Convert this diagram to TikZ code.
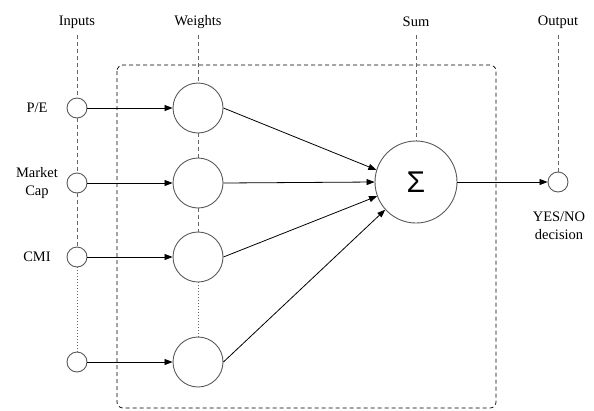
\documentclass[tikz,border=0pt]{standalone}
\usepackage{fontspec}
\setmainfont{Liberation Serif}
\newfontfamily\sigmafont{Liberation Sans}
\usetikzlibrary{arrows.meta}
\begin{document}
\begin{tikzpicture}[x=1pt,y=-1pt,
  lab/.style={font=\fontsize{14.5}{17}\selectfont, inner sep=0pt, align=center},
  incirc/.style={circle, draw=black!65, line width=0.9pt, minimum size=20pt, inner sep=0pt},
  wcirc/.style={circle, draw=black!65, line width=0.9pt, minimum size=50pt, inner sep=0pt},
  scirc/.style={circle, draw=black!65, line width=0.9pt, minimum size=82pt, inner sep=0pt},
  guide/.style={draw=black!60, line width=0.7pt, dash pattern=on 4pt off 3pt},
  guidedot/.style={draw=black!60, line width=0.7pt, dash pattern=on 1pt off 2pt},
  conn/.style={draw=black, line width=0.8pt, -{Triangle[length=8pt,width=6pt]}},
]
\useasboundingbox (0,0) rectangle (594,410);
% dashed box
\draw[line width=0.7pt, dash pattern=on 4pt off 3pt, rounded corners=6pt] (117,65) rectangle (496,408);

% header labels
\node[lab] (hin) at (77,22) {Inputs};
\node[lab] (hw) at (198,22) {Weights};
\node[lab] (hs) at (416,22) {Sum};
\node[lab] (ho) at (558,22) {Output};

% inputs
\node[incirc] (i1) at (77,108) {};
\node[incirc] (i2) at (77,183) {};
\node[incirc] (i3) at (77,257) {};
\node[incirc] (i4) at (77,362) {};

\node[lab] (l1) at (37,108) {P/E};
\node[lab, font=\fontsize{14.5}{18}\selectfont] (l2) at (37,183) {Market\\Cap};
\node[lab] (l3) at (37,257) {CMI};

% weights
\node[wcirc] (w1) at (198,108) {};
\node[wcirc] (w2) at (198,183) {};
\node[wcirc] (w3) at (198,257) {};
\node[wcirc] (w4) at (198,362) {};

% sum
\node[scirc] (s) at (416,182) {\sigmafont\fontsize{30}{30}\selectfont Σ};

% output
\node[incirc] (o) at (558,182) {};
\node[lab, font=\fontsize{14.5}{18}\selectfont] (ol) at (559,226) {YES/NO\\decision};

% guide lines
\draw[guide] (77,35) -- (i1.north);
\draw[guide] (i1.south) -- (i2.north);
\draw[guide] (i2.south) -- (i3.north);
\draw[guidedot] (i3.south) -- (i4.north);

\draw[guide] (198,35) -- (w1.north);
\draw[guide] (w1.south) -- (w2.north);
\draw[guide] (w2.south) -- (w3.north);
\draw[guidedot] (w3.south) -- (w4.north);

\draw[guide] (416,35) -- (s.north);
\draw[guide] (558,35) -- (o.north);

% connectors
\draw[conn] (i1) -- (w1);
\draw[conn] (i2) -- (w2);
\draw[conn] (i3) -- (w3);
\draw[conn] (i4) -- (w4);

\draw[conn] (w1.east) -- (s.163);
\draw[conn] (w2.east) -- (s.180);
\draw[conn] (w3.east) -- (s.200);
\draw[conn] (w4.east) -- (s.222);

\draw[conn] (s) -- (o);
\end{tikzpicture}
\end{document}
